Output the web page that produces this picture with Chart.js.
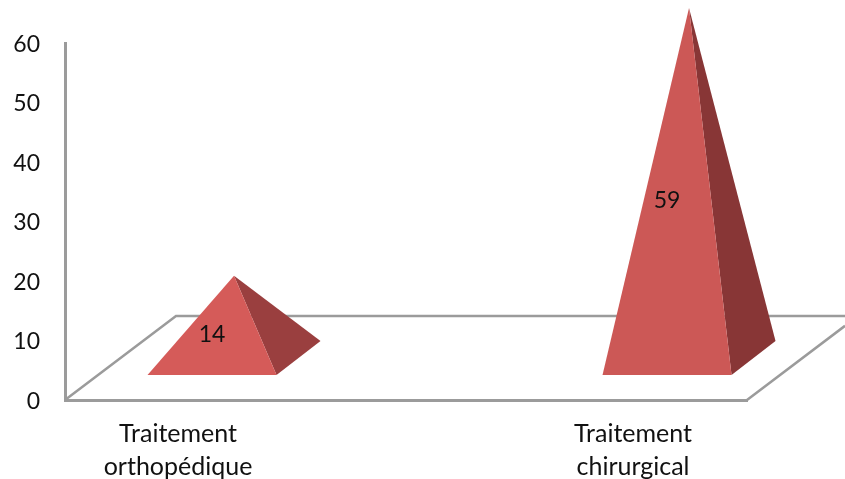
<!DOCTYPE html>
<html lang="fr">
<head>
<meta charset="utf-8">
<title>Traitement</title>
<style>
    html, body { margin: 0; padding: 0; background: #fff; overflow: hidden; }
    #wrap { position: relative; width: 845px; height: 479px; }
</style>
</head>
<body>
<div id="wrap"><canvas id="traitementChart" width="845" height="479"></canvas></div>
<script src="https://cdn.jsdelivr.net/npm/chart.js@4"></script>
<script>
const categories = [['Traitement', 'orthopédique'], ['Traitement', 'chirurgical']];
const values = [14, 59];
const tickLabels = [0, 10, 20, 30, 40, 50, 60];

const frontColors = ['#d55b59', '#cc5856'];
const sideColors = ['#9a3f3f', '#883636'];
const AXIS_COLOR = '#9b9b9b';
const TEXT_COLOR = '#111';
const FONT = 'Lato, sans-serif';

// floor depth and pyramid footprint, in screen pixels
const FLOOR_DX = 111, FLOOR_DY = 84, FLOOR_RIGHT_END = 98;
const FRONT_DX = 34, FRONT_DY = 25;
const BASE_HALF = 64.5, BASE_DX = 44, BASE_DY = 34;
const APEX_LIFT = 41;

const fillFace = (ctx, color, points) => {
    ctx.fillStyle = color;
    ctx.beginPath();
    points.forEach(([px, py], i) => (i ? ctx.lineTo(px, py) : ctx.moveTo(px, py)));
    ctx.closePath();
    ctx.fill();
};

const pyramidPlugin = {
    id: 'pyramids',
    // back edges of the floor sit behind the pyramids
    beforeDatasetsDraw(chart) {
        const { ctx, chartArea: area } = chart;
        ctx.save();
        ctx.strokeStyle = AXIS_COLOR;
        ctx.lineWidth = 2.5;
        ctx.beginPath();
        ctx.moveTo(area.left, area.bottom);
        ctx.lineTo(area.left + FLOOR_DX, area.bottom - FLOOR_DY);
        ctx.lineTo(chart.width, area.bottom - FLOOR_DY);
        ctx.moveTo(area.right, area.bottom);
        ctx.lineTo(area.right + FLOOR_RIGHT_END, area.bottom - FLOOR_RIGHT_END * FLOOR_DY / FLOOR_DX);
        ctx.stroke();
        ctx.restore();
    },
    afterDatasetsDraw(chart) {
        const { ctx, scales } = chart;
        const zero = scales.y.getPixelForValue(0);
        ctx.save();
        chart.getDatasetMeta(0).data.forEach((bar, i) => {
            const fx = bar.x + FRONT_DX;
            const fy = zero - FRONT_DY;
            const apex = [fx + BASE_DX / 2, bar.y - APEX_LIFT];
            fillFace(ctx, sideColors[i], [[fx + BASE_HALF, fy], [fx + BASE_HALF + BASE_DX, fy - BASE_DY], apex]);
            fillFace(ctx, frontColors[i], [[fx - BASE_HALF, fy], [fx + BASE_HALF, fy], apex]);

            ctx.fillStyle = TEXT_COLOR;
            ctx.font = '23px ' + FONT;
            ctx.textAlign = 'center';
            ctx.textBaseline = 'middle';
            ctx.fillText(String(values[i]), fx, scales.y.getPixelForValue(values[i] / 2) - FRONT_DY + 1.5);
        });
        ctx.restore();
    }
};

new Chart(document.getElementById('traitementChart'), {
    type: 'bar',
    data: {
        datasets: [{
            data: values.map((v, i) => ({ x: i, y: v })),
            backgroundColor: 'rgba(0,0,0,0)',
            borderWidth: 0
        }]
    },
    options: {
        responsive: false,
        animation: false,
        layout: { padding: { top: 43, right: 98, bottom: 0, left: 0 } },
        plugins: { legend: { display: false }, tooltip: { enabled: false } },
        scales: {
            x: {
                type: 'linear',
                offset: false,
                min: -0.2484,
                max: 1.2505,
                grid: { display: false, drawTicks: false, offset: false },
                border: { color: AXIS_COLOR, width: 3 },
                afterBuildTicks: (axis) => { axis.ticks = categories.map((_, i) => ({ value: i })); },
                afterFit: (axis) => { axis.height = 79; },
                ticks: {
                    autoSkip: false,
                    maxRotation: 0,
                    padding: 18,
                    color: TEXT_COLOR,
                    font: { family: FONT, size: 25, lineHeight: 1.3 },
                    callback: (value) => categories[value]
                }
            },
            y: {
                min: 0,
                max: 60,
                grid: { display: false, drawTicks: false },
                border: { color: AXIS_COLOR, width: 3 },
                afterBuildTicks: (axis) => { axis.ticks = tickLabels.map((value) => ({ value })); },
                afterFit: (axis) => { axis.width = 65; },
                ticks: {
                    padding: 25,
                    labelOffset: 1.5,
                    color: TEXT_COLOR,
                    font: { family: FONT, size: 23 }
                }
            }
        }
    },
    plugins: [pyramidPlugin]
});
</script>
</body>
</html>
